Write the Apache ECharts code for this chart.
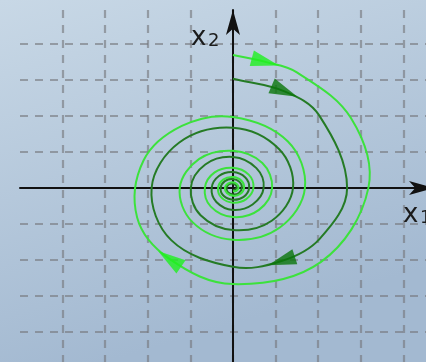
<!DOCTYPE html>
<html>
<head>
<meta charset="utf-8">
<script src="https://cdn.jsdelivr.net/npm/echarts@6/dist/echarts.min.js"></script>
<style>
  html, body { margin: 0; padding: 0; }
  #chart { width: 426px; height: 362px; }
</style>
</head>
<body>
<div id="chart"></div>
<script>
// Phase plane (x1, x2) of a stable focus: two trajectories spiralling clockwise into the origin.

// Outer trajectory (light green), points in phase-plane units, clockwise from the x2 axis
const outerOrbit = [
  [0, 3.69], [0.76, 3.50], [1.50, 3.21], [2.77, 1.94], [3.18, 0], [2.06, -2.06],
  [0, -2.67], [-1.49, -1.97], [-2.25, -0.82], [-2.10, 0.76], [-1.20, 1.72],
  [0, 1.97], [1.29, 1.29], [1.69, 0], [1.10, -1.10], [0, -1.44], [-0.95, -0.95],
  [-1.25, 0], [-0.80, 0.80], [0, 1.03], [0.69, 0.69], [0.92, 0], [0.61, -0.61],
  [0, -0.81], [-0.52, -0.52], [-0.66, 0], [-0.43, 0.43], [0, 0.56], [0.37, 0.37],
  [0.48, 0], [0.31, -0.31], [0, -0.41], [-0.27, -0.27], [-0.35, 0], [-0.23, 0.23],
  [0, 0.30], [0.20, 0.20], [0.26, 0], [0.17, -0.17], [0, -0.22], [-0.14, -0.14],
  [-0.19, 0], [-0.12, 0.12], [0, 0.16], [0.10, 0.10], [0.13, 0], [0.08, -0.08],
  [0, -0.10]
];

// Inner trajectory (dark green)
const innerOrbit = [
  [0, 3.03], [1.21, 2.68], [2.02, 2.02], [2.68, 0], [2.03, -1.42], [1.14, -2.03],
  [0, -2.19], [-1.45, -1.45], [-1.91, 0], [-1.26, 1.26], [0, 1.67], [1.08, 1.08],
  [1.41, 0], [0.91, -0.91], [0, -1.17], [-0.76, -0.76], [-0.99, 0], [-0.65, 0.65],
  [0, 0.86], [0.55, 0.55], [0.72, 0], [0.46, -0.46], [0, -0.61], [-0.39, -0.39],
  [-0.50, 0], [-0.33, 0.33], [0, 0.44], [0.29, 0.29], [0.38, 0], [0.25, -0.25],
  [0, -0.33], [-0.22, -0.22], [-0.29, 0], [-0.19, 0.19], [0, 0.25], [0.16, 0.16],
  [0.21, 0], [0.14, -0.14], [0, -0.18], [-0.12, -0.12], [-0.15, 0], [-0.10, 0.10],
  [0, 0.12], [0.07, 0.07], [0.09, 0], [0.05, -0.05], [0, -0.06]
];

// Points of each trajectory that carry a direction arrow
const outerArrowAt = [1, 7];
const innerArrowAt = [1, 5];

// Axis labels
const xAxisLabel = ['x', '1'];
const yAxisLabel = ['x', '2'];

const LIGHT = '#3ce23c';
const LIGHT_ARROW = '#1ef01e';
const DARK = '#257b25';
const DARK_ARROW = '#0a760a';
const GRID = 'rgba(118,120,124,0.62)';

// Tangent (pixel space) at point i of a polyline, chord-length weighted
function tangentAt(pts, i) {
  const n = pts.length;
  const a = pts[Math.max(0, i - 1)];
  const b = pts[Math.min(n - 1, i + 1)];
  const len = Math.hypot(pts[i][0] - a[0], pts[i][1] - a[1]) + Math.hypot(b[0] - pts[i][0], b[1] - pts[i][1]);
  return [(b[0] - a[0]) / len, (b[1] - a[1]) / len];
}

// Smooth cubic path through pixel points (Hermite with chord-length tangents)
function smoothPath(pts) {
  const k = 1.1;
  let d = 'M' + pts[0][0] + ' ' + pts[0][1];
  for (let i = 0; i < pts.length - 1; i++) {
    const p = pts[i], q = pts[i + 1];
    const seg = Math.hypot(q[0] - p[0], q[1] - p[1]) / 3 * k;
    const t0 = tangentAt(pts, i), t1 = tangentAt(pts, i + 1);
    d += ' C' + (p[0] + t0[0] * seg) + ' ' + (p[1] + t0[1] * seg) + ' ' +
         (q[0] - t1[0] * seg) + ' ' + (q[1] - t1[1] * seg) + ' ' + q[0] + ' ' + q[1];
  }
  return d;
}

function orbitSeries(name, orbit, color, z) {
  return {
    name: name, type: 'custom', data: orbit, encode: { x: 0, y: 1 }, z: z, silent: true,
    renderItem: function (params, api) {
      if (params.dataIndex !== 0) return null;
      const pts = orbit.map(function (p) { return api.coord(p); });
      return {
        type: 'path',
        shape: { pathData: smoothPath(pts) },
        style: { fill: 'none', stroke: color, lineWidth: 2 }
      };
    }
  };
}

const chart = echarts.init(document.getElementById('chart'), null, { renderer: 'canvas' });

const axisCommon = {
  type: 'value',
  interval: 1,
  axisTick: { show: false },
  axisLabel: { show: false },
  splitLine: {
    show: true,
    showMinLine: false,
    showMaxLine: false,
    lineStyle: { color: GRID, width: 2.2, type: [8, 7] }
  }
};

chart.setOption({
  animation: false,
  backgroundColor: {
    type: 'linear', x: 0, y: 0, x2: 0.25, y2: 1,
    colorStops: [
      { offset: 0, color: '#c8d8e6' },
      { offset: 1, color: '#a3b9d1' }
    ]
  },
  grid: { left: 20, right: -8, top: 10, bottom: -6, containLabel: false, outerBoundsMode: 'none' },
  xAxis: Object.assign({}, axisCommon, {
    min: -5, max: 4.72,
    axisLine: {
      show: true, onZero: true,
      symbol: ['none', 'arrow'], symbolSize: [10.5, 25], symbolOffset: [0, 0],
      lineStyle: { color: '#111', width: 2 }
    }
  }),
  yAxis: Object.assign({}, axisCommon, {
    min: -5, max: 4.94,
    axisLine: {
      show: true, onZero: true,
      symbol: ['none', 'arrow'], symbolSize: [10.5, 25], symbolOffset: [0, 0],
      lineStyle: { color: '#111', width: 2 }
    }
  }),
  series: [
    orbitSeries('inner', innerOrbit, DARK, 3),
    orbitSeries('outer', outerOrbit, LIGHT, 4)
  ]
});

// Arrowheads follow the curve direction at their point
function arrowData(orbit, indices) {
  const pts = orbit.map(function (p) { return chart.convertToPixel({ gridIndex: 0 }, p); });
  return indices.map(function (i) {
    const t = tangentAt(pts, i);
    const ang = Math.atan2(-t[1], t[0]) * 180 / Math.PI;
    return { value: orbit[i], symbolRotate: ang - 90 };
  });
}

const labelFont = '"DejaVu Sans", sans-serif';
chart.setOption({
  graphic: [
    { id: 'ylx', type: 'text', x: 191, y: 38,
      style: { text: yAxisLabel[0], font: '26px ' + labelFont, fill: '#1b1b1b', verticalAlign: 'middle' } },
    { id: 'yls', type: 'text', x: 208, y: 41,
      style: { text: yAxisLabel[1], font: '18px ' + labelFont, fill: '#1b1b1b', verticalAlign: 'middle' } },
    { id: 'xlx', type: 'text', x: 403, y: 215,
      style: { text: xAxisLabel[0], font: '26px ' + labelFont, fill: '#1b1b1b', verticalAlign: 'middle' } },
    { id: 'xls', type: 'text', x: 420, y: 218,
      style: { text: xAxisLabel[1], font: '18px ' + labelFont, fill: '#1b1b1b', verticalAlign: 'middle' } }
  ],
  series: [
    {}, {},
    {
      name: 'innerArrows', type: 'scatter', data: arrowData(innerOrbit, innerArrowAt),
      symbol: 'triangle', symbolSize: [16, 28], itemStyle: { color: DARK_ARROW }, z: 6, silent: true
    },
    {
      name: 'outerArrows', type: 'scatter', data: arrowData(outerOrbit, outerArrowAt),
      symbol: 'triangle', symbolSize: [16, 28], itemStyle: { color: LIGHT_ARROW }, z: 6, silent: true
    }
  ]
});
</script>
</body>
</html>
